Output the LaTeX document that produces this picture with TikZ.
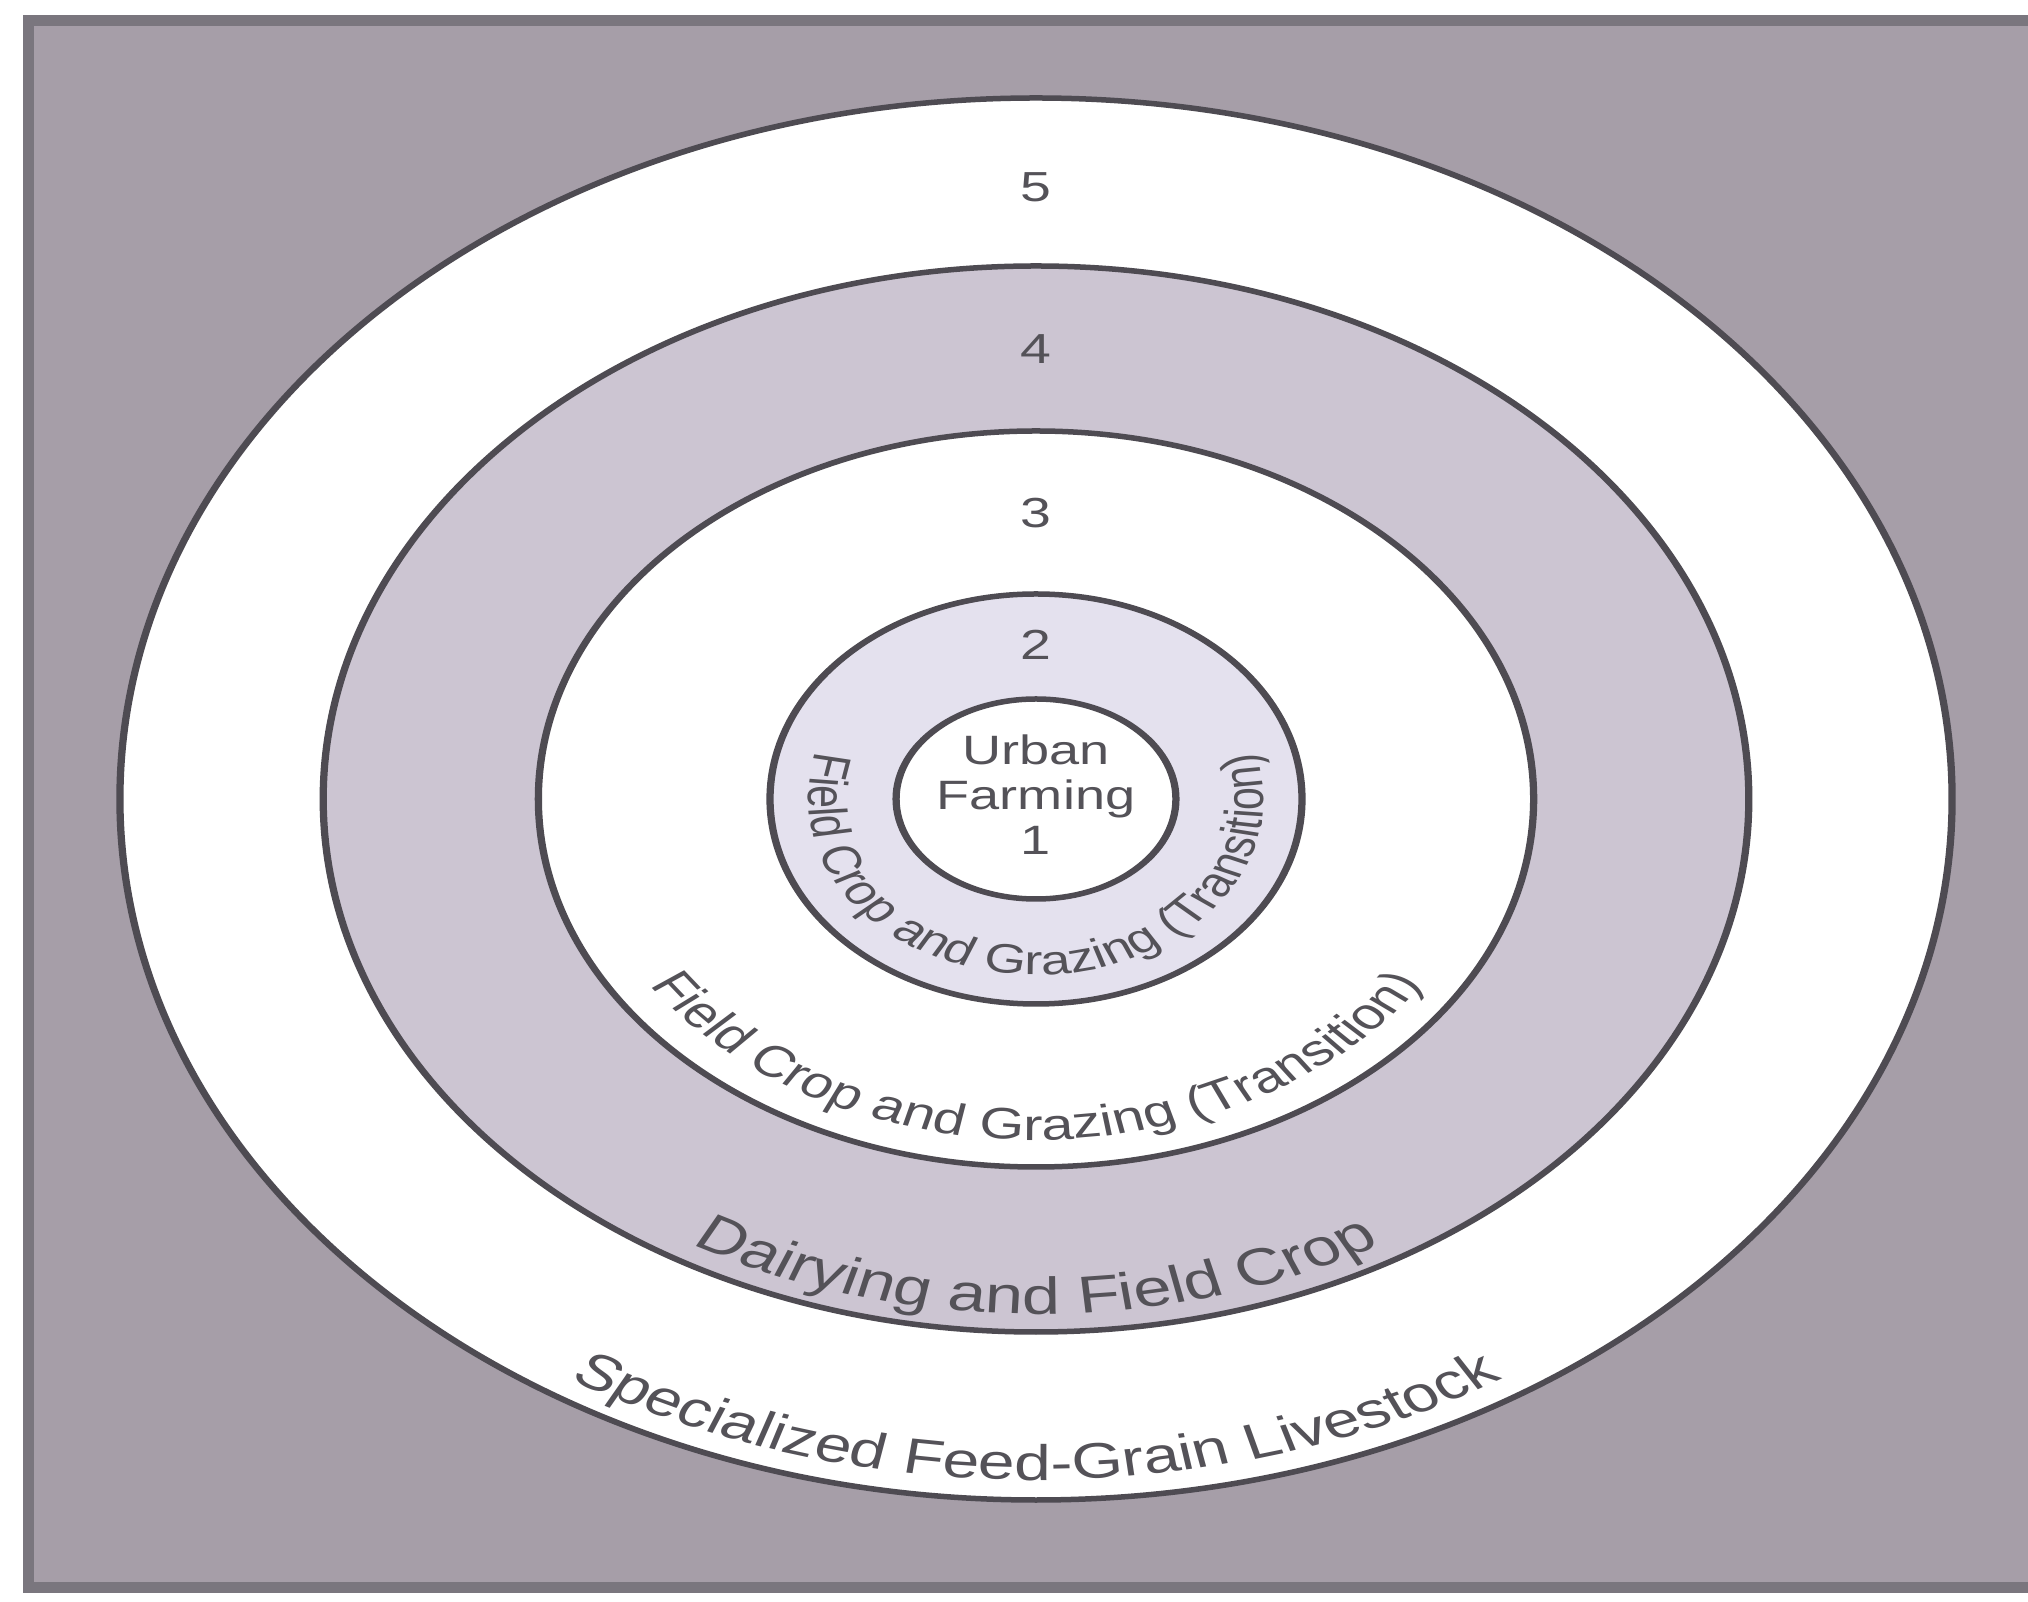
\documentclass[tikz,border=0pt]{standalone}
\usepackage{fontspec}
\setmainfont{Liberation Sans}
\usetikzlibrary{decorations.text}
\definecolor{bggray}{RGB}{166,158,168}
\definecolor{framegray}{RGB}{122,118,126}
\definecolor{ringgray}{RGB}{204,197,210}
\definecolor{ringlight}{RGB}{228,225,238}
\definecolor{linegray}{RGB}{78,75,82}
\definecolor{txtgray}{RGB}{84,82,88}
\newcommand\fsFive{\fontsize{50}{60}\selectfont}
\newcommand\fsFour{\fontsize{52}{62}\selectfont}
\newcommand\fsThree{\fontsize{44}{52}\selectfont}
\newcommand\fsTwo{\fontsize{41}{48}\selectfont}
\begin{document}
\begin{tikzpicture}[x=1pt,y=1pt,
  zone/.style={draw=linegray, line width=5.5pt},
  numtxt/.style={text=txtgray, font=\fontsize{42}{48}\selectfont, inner sep=0pt},
  ringtext/.style={decorate, decoration={text along path, text align=center, text color=txtgray}}]
\useasboundingbox (0,0) rectangle (2028,1601);
\fill[white] (0,0) rectangle (2028,1601);
\draw[framegray, line width=11pt, fill=bggray] (28,14) rectangle (2070,1580);
\begin{scope}[transform canvas={shift={(1036,802)},xscale=1.32}]
  \path[zone, fill=white]      (0,0) ellipse[x radius=694, y radius=701];
  \path[zone, fill=ringgray]   (0,0) ellipse[x radius=540, y radius=533];
  \path[zone, fill=white]      (0,0) ellipse[x radius=377, y radius=368];
  \path[zone, fill=ringlight]  (0,0) ellipse[x radius=201.5, y radius=205];
  \path[zone, fill=white]      (0,0) ellipse[x radius=106, y radius=100];
  \node[numtxt] (n5) at (0,612) {5};
  \node[numtxt] (n4) at (0,450) {4};
  \node[numtxt] (n3) at (0,286) {3};
  \node[numtxt] (n2) at (0,154) {2};
  \node[text=txtgray, align=center, inner sep=0pt, font=\fontsize{41}{45}\selectfont] (urban) at (0,4) {Urban\\Farming\\1};
  \path[ringtext, decoration={text={|\fsFive|Specialized Feed-Grain Livestock}}]
    (150:674 and 681) arc[start angle=150, end angle=390, x radius=674, y radius=681];
  \path[ringtext, decoration={text={|\fsFour|Dairying and Field Crop}}]
    (150:521 and 515) arc[start angle=150, end angle=390, x radius=521, y radius=515];
  \path[ringtext, decoration={text={|\fsThree|Field Crop and Grazing (Transition)}}]
    (150:349 and 341) arc[start angle=150, end angle=390, x radius=349, y radius=341];
  \path[ringtext, decoration={text={|\fsTwo|Field Crop and Grazing (Transition)}}]
    (100:172.5 and 176) arc[start angle=100, end angle=440, x radius=172.5, y radius=176];
\end{scope}
\end{tikzpicture}
\end{document}
